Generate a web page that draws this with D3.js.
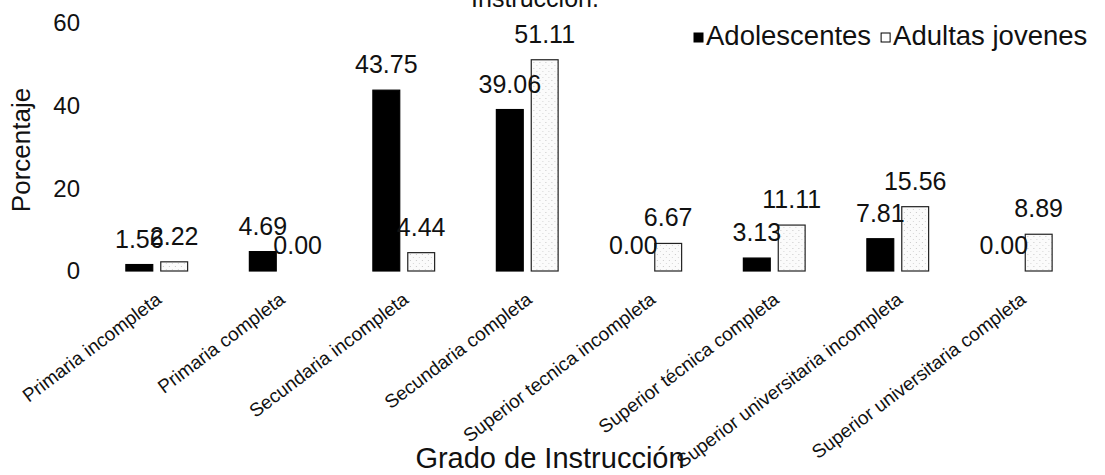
<!DOCTYPE html>
<html>
<head>
<meta charset="utf-8">
<script src="https://cdn.jsdelivr.net/npm/d3@7"></script>
<style>
  html, body { margin: 0; padding: 0; background: #fff; }
  svg { display: block; font-family: "Liberation Sans", Arial, sans-serif; }
</style>
</head>
<body>
<svg id="chart" width="1105" height="475"></svg>
<script>
const categories = [
  "Primaria incompleta",
  "Primaria completa",
  "Secundaria incompleta",
  "Secundaria completa",
  "Superior tecnica incompleta",
  "Superior técnica completa",
  "Superior universitaria incompleta",
  "Superior universitaria completa"
];
const seriesNames = ["Adolescentes", "Adultas jovenes"];
const adolescentes = [1.56, 4.69, 43.75, 39.06, 0.00, 3.13, 7.81, 0.00];
const adultasJovenes = [2.22, 0.00, 4.44, 51.11, 6.67, 11.11, 15.56, 8.89];
const yTicks = [0, 20, 40, 60];
const titleText = "Instrucción.";
const xTitle = "Grado de Instrucción";
const yTitle = "Porcentaje";

const svg = d3.select("#chart");

// light dotted fill
const defs = svg.append("defs");
const pat = defs.append("pattern")
  .attr("id", "dots").attr("patternUnits", "userSpaceOnUse")
  .attr("width", 6).attr("height", 6);
pat.append("rect").attr("width", 6).attr("height", 6).attr("fill", "#fbfbfb");
pat.append("rect").attr("x", 1).attr("y", 2).attr("width", 1).attr("height", 1).attr("fill", "#c8c8c8");
pat.append("rect").attr("x", 4).attr("y", 5).attr("width", 1).attr("height", 1).attr("fill", "#d6d6d6");

const x0 = d3.scaleBand().domain(categories).range([95, 1083]).paddingInner(0.5).paddingOuter(0.25);
const x1 = d3.scaleBand().domain(seriesNames).range([0, x0.bandwidth()]).paddingInner(0.23);
const y = d3.scaleLinear().domain([0, 60]).range([271, 23]);

const colors = { "Adolescentes": "#000", "Adultas jovenes": "url(#dots)" };

const rows = categories.map((c, i) => ({
  cat: c,
  vals: [
    { s: seriesNames[0], v: adolescentes[i] },
    { s: seriesNames[1], v: adultasJovenes[i] }
  ]
}));

// title (clipped at top)
svg.append("text").attr("x", 535).attr("y", 7)
  .attr("text-anchor", "middle").attr("font-size", 25).attr("fill", "#111")
  .text(titleText);

// y axis tick labels (no line)
const yAxis = d3.axisLeft(y).tickValues(yTicks).tickSize(0).tickPadding(0).tickFormat(d3.format("d"));
const gy = svg.append("g").attr("transform", "translate(80,0)").call(yAxis);
gy.select(".domain").remove();
gy.selectAll("text").attr("font-size", 24).attr("fill", "#111").attr("font-family", "Liberation Sans, Arial, sans-serif");

// bars
const groups = svg.append("g").selectAll("g.cat").data(rows).join("g")
  .attr("class", "cat")
  .attr("transform", d => `translate(${x0(d.cat)},0)`);

groups.selectAll("rect").data(d => d.vals).join("rect")
  .attr("x", d => x1(d.s))
  .attr("width", x1.bandwidth())
  .attr("y", d => y(d.v))
  .attr("height", d => y(0) - y(d.v))
  .attr("fill", d => colors[d.s])
  .attr("stroke", d => d.s === seriesNames[1] ? "#222" : "#000")
  .attr("stroke-width", 1.2);

// value labels
groups.selectAll("text.val").data(d => d.vals).join("text")
  .attr("class", "val")
  .attr("x", d => x1(d.s) + x1.bandwidth() / 2)
  .attr("y", d => y(d.v) - 17)
  .attr("text-anchor", "middle")
  .attr("font-size", 25)
  .attr("fill", "#111")
  .text(d => d.v.toFixed(2));

// x axis tick labels (rotated)
const xAxis = d3.axisBottom(x0).tickSize(0).tickPadding(0);
const gx = svg.append("g").attr("transform", `translate(0,${y(0)})`).call(xAxis);
gx.select(".domain").remove();
gx.selectAll(".tick text")
  .attr("font-size", 19)
  .attr("fill", "#111")
  .attr("font-family", "Liberation Sans, Arial, sans-serif")
  .attr("text-anchor", "end")
  .attr("dy", 0)
  .attr("y", 0)
  .attr("transform", "translate(6,31) rotate(-37)");

// axis titles
svg.append("text").attr("x", 550).attr("y", 468)
  .attr("text-anchor", "middle").attr("font-size", 29).attr("fill", "#111")
  .text(xTitle);
svg.append("text")
  .attr("transform", "translate(30,150) rotate(-90)")
  .attr("text-anchor", "middle").attr("font-size", 26).attr("fill", "#111")
  .text(yTitle);

// legend
const legend = svg.append("g").attr("transform", "translate(694,0)");
let lx = 0;
seriesNames.forEach((s, i) => {
  legend.append("rect").attr("x", lx).attr("y", 33).attr("width", 9).attr("height", 9)
    .attr("fill", i === 0 ? "#000" : "#fff").attr("stroke", "#000").attr("stroke-width", 1);
  const t = legend.append("text").attr("x", lx + 12).attr("y", 45)
    .attr("font-size", 27.5).attr("fill", "#111").text(s);
  lx += 12 + t.node().getComputedTextLength() + 10;
});
</script>
</body>
</html>
